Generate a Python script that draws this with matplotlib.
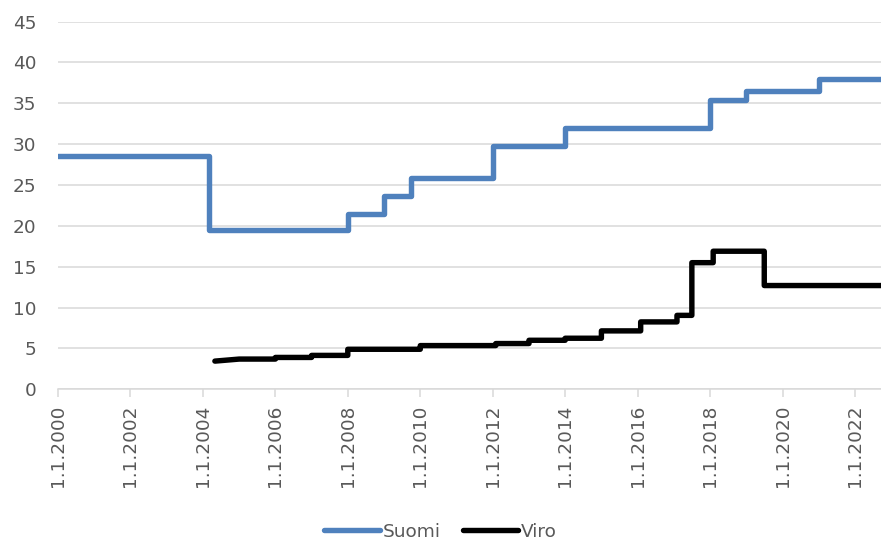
import datetime as dt
import matplotlib
matplotlib.use("Agg")
import matplotlib.pyplot as plt

# Excise rates, points joined by straight lines; repeated dates give the vertical steps
suomi_dates = ["2000-01-01", "2004-03-01", "2004-03-01", "2008-01-01", "2008-01-01",
               "2009-01-01", "2009-01-01", "2009-10-01", "2009-10-01", "2012-01-01",
               "2012-01-01", "2014-01-01", "2014-01-01", "2018-01-01", "2018-01-01",
               "2019-01-01", "2019-01-01", "2021-01-01", "2021-01-01", "2022-09-30"]
suomi_values = [28.6, 28.6, 19.5, 19.5, 21.4,
                21.4, 23.6, 23.6, 25.9, 25.9,
                29.8, 29.8, 32.0, 32.0, 35.4,
                35.4, 36.5, 36.5, 38.0, 38.0]

viro_dates = ["2004-05-01", "2005-01-01", "2006-01-01", "2006-01-01", "2007-01-01",
              "2007-01-01", "2008-01-01", "2008-01-01", "2010-01-01", "2010-01-01",
              "2012-02-01", "2012-02-01", "2013-01-01", "2013-01-01", "2014-01-01",
              "2014-01-01", "2015-01-01", "2015-01-01", "2016-02-01", "2016-02-01",
              "2017-02-01", "2017-02-01", "2017-07-01", "2017-07-01", "2018-02-01",
              "2018-02-01", "2019-07-01", "2019-07-01", "2022-09-30"]
viro_values = [3.45, 3.7, 3.7, 3.9, 3.9,
               4.15, 4.15, 4.9, 4.9, 5.35,
               5.35, 5.6, 5.6, 6.0, 6.0,
               6.25, 6.25, 7.15, 7.15, 8.25,
               8.25, 9.05, 9.05, 15.5, 15.5,
               16.9, 16.9, 12.7, 12.7]

tick_years = list(range(2000, 2023, 2))
y_ticks = [0, 5, 10, 15, 20, 25, 30, 35, 40, 45]


def to_dates(values):
    return [dt.datetime.strptime(v, "%Y-%m-%d") for v in values]


text_color = "#595959"
grid_color = "#D9D9D9"

fig = plt.figure(figsize=(8.81, 5.41), dpi=100)
ax = fig.add_axes([0.0658, 0.2804, 0.9342, 0.6796])

ax.plot(to_dates(suomi_dates), suomi_values, color="#4F81BD", lw=3.9,
        solid_joinstyle="round", solid_capstyle="round", label="Suomi", zorder=3)
ax.plot(to_dates(viro_dates), viro_values, color="black", lw=3.9,
        solid_joinstyle="round", solid_capstyle="round", label="Viro", zorder=3)

ax.set_ylim(0, 45)
ax.set_yticks(y_ticks)
ax.set_xlim(dt.datetime(2000, 1, 1), dt.datetime(2022, 9, 20))
ax.set_xticks([dt.datetime(y, 1, 1) for y in tick_years])
ax.set_xticklabels([f"1.1.{y}" for y in tick_years], rotation=90)

ax.grid(axis="y", color=grid_color, lw=1.1)
ax.set_axisbelow(True)
for side in ("top", "right", "left"):
    ax.spines[side].set_visible(False)
ax.spines["bottom"].set_color(grid_color)
ax.spines["bottom"].set_linewidth(1.1)

ax.tick_params(axis="y", length=0, pad=15.5, labelsize=13.3, labelcolor=text_color)
ax.tick_params(axis="x", length=6, width=1.1, color=grid_color, pad=5,
               labelsize=13.3, labelcolor=text_color)

leg = fig.legend(loc="lower center", bbox_to_anchor=(0.5, -0.03), ncol=2,
                 frameon=False, fontsize=13.3, handlelength=3.0,
                 handletextpad=0.15, columnspacing=1.2)
for t in leg.get_texts():
    t.set_color(text_color)

fig.savefig("out.png", dpi=100)
